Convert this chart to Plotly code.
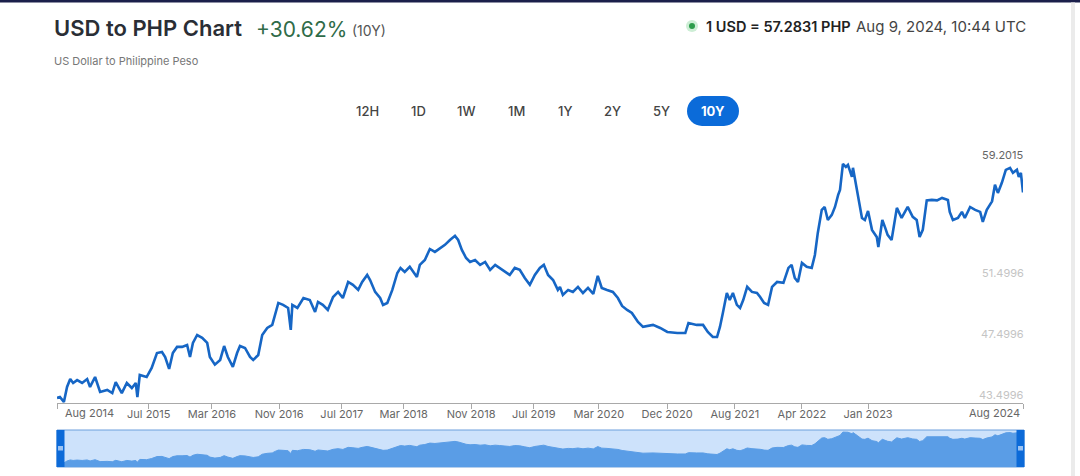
import plotly.graph_objects as go

# ---------------- data ----------------
dates = [
    # 2014 - 2018
    "2014-08-09", "2014-08-20", "2014-09-04", "2014-09-16", "2014-09-28", "2014-10-09",
    "2014-10-24", "2014-11-12", "2014-12-01", "2014-12-12", "2014-12-31", "2015-01-19",
    "2015-02-15", "2015-03-06", "2015-03-19", "2015-04-11", "2015-04-30", "2015-05-19",
    "2015-06-03", "2015-06-09", "2015-06-18", "2015-07-14", "2015-08-02", "2015-08-22",
    "2015-09-10", "2015-09-22", "2015-10-07", "2015-10-21", "2015-11-06", "2015-11-25",
    "2015-12-14", "2015-12-25", "2016-01-05", "2016-01-21", "2016-02-09", "2016-02-28",
    "2016-03-09", "2016-03-28", "2016-04-17", "2016-05-02", "2016-05-16", "2016-06-04",
    "2016-06-20", "2016-07-01", "2016-07-20", "2016-08-08", "2016-08-20", "2016-09-08",
    "2016-09-23", "2016-10-12", "2016-10-31", "2016-11-11", "2016-11-23", "2016-12-11",
    "2016-12-30", "2017-01-09", "2017-01-15", "2017-02-03", "2017-02-26", "2017-03-22",
    "2017-04-11", "2017-04-22", "2017-05-10", "2017-05-29", "2017-06-18", "2017-07-07",
    "2017-07-25", "2017-08-14", "2017-09-01", "2017-09-21", "2017-10-06", "2017-10-25",
    "2017-11-05", "2017-11-24", "2017-12-13", "2017-12-24", "2018-01-09", "2018-01-28",
    "2018-02-16", "2018-02-28", "2018-03-16", "2018-04-04", "2018-05-01", "2018-05-12",
    "2018-05-31", "2018-06-19", "2018-07-08", "2018-07-19",
    # 2018 - 2019
    "2018-08-15", "2018-09-03", "2018-09-22", "2018-10-04", "2018-10-18", "2018-11-03",
    "2018-11-18", "2018-12-07", "2018-12-26", "2019-01-14", "2019-02-02", "2019-02-21",
    "2019-03-10", "2019-03-29", "2019-04-17", "2019-05-06", "2019-05-25", "2019-06-13",
    "2019-07-02", "2019-07-21", "2019-08-09", "2019-08-24", "2019-09-09", "2019-09-28",
    "2019-10-16",
    # 2019 - 2024
    "2019-10-24", "2019-11-04", "2019-11-24", "2019-12-12", "2019-12-31", "2020-01-19",
    "2020-02-07", "2020-02-27", "2020-03-15", "2020-03-30", "2020-04-19", "2020-05-11",
    "2020-05-30", "2020-06-15", "2020-07-04", "2020-07-22", "2020-08-14", "2020-09-02",
    "2020-10-10", "2020-11-06", "2020-12-03", "2021-01-10", "2021-02-09", "2021-02-21",
    "2021-03-24", "2021-04-17", "2021-05-05", "2021-05-24", "2021-06-09", "2021-06-20",
    "2021-07-01", "2021-07-16", "2021-07-27", "2021-08-08", "2021-08-23", "2021-09-04",
    "2021-09-16", "2021-10-01", "2021-10-19", "2021-11-07", "2021-11-19", "2021-12-04",
    "2021-12-19", "2022-01-03", "2022-01-22", "2022-02-15", "2022-03-06", "2022-03-18",
    "2022-03-30", "2022-04-11", "2022-04-26", "2022-05-14", "2022-06-02", "2022-06-14",
    "2022-06-25", "2022-07-10", "2022-07-21", "2022-08-02", "2022-08-17", "2022-08-29",
    "2022-09-10", "2022-09-17", "2022-09-28", "2022-10-09", "2022-10-17", "2022-11-01",
    "2022-11-05", "2022-11-21", "2022-12-02", "2022-12-09", "2022-12-20", "2023-01-01",
    "2023-01-16", "2023-02-03", "2023-02-09", "2023-02-24", "2023-03-07", "2023-03-16",
    "2023-03-31", "2023-04-20", "2023-05-08", "2023-05-31", "2023-06-19", "2023-07-04",
    "2023-07-15", "2023-07-27", "2023-08-11", "2023-08-30", "2023-09-19", "2023-10-08",
    "2023-10-30", "2023-11-06", "2023-11-18", "2023-12-07", "2023-12-22", "2024-01-02",
    "2024-01-22", "2024-02-10", "2024-02-29", "2024-03-10", "2024-03-25", "2024-04-14",
    "2024-04-25", "2024-05-06", "2024-05-21", "2024-06-05", "2024-06-21", "2024-07-02",
    "2024-07-17", "2024-07-24", "2024-08-01", "2024-08-09",
]
usd_php = [
    # 2014 - 2018
    43.83, 43.89, 43.57, 44.55, 45.07, 44.81,
    45.00, 44.81, 45.07, 44.55, 45.20, 44.22,
    44.35, 44.15, 44.87, 44.15, 44.81, 44.48,
    44.81, 43.89, 45.33, 45.20, 45.79, 46.77,
    46.84, 46.51, 45.73, 46.77, 47.17, 47.17,
    47.30, 46.51, 47.43, 47.95, 47.76, 47.43,
    46.51, 46.01, 46.32, 47.23, 46.51, 45.86,
    46.77, 47.23, 47.10, 46.51, 46.32, 46.64,
    47.95, 48.41, 48.61, 49.39, 50.05, 49.92,
    49.72, 48.28, 49.92, 49.72, 50.37, 50.24,
    49.46, 50.11, 49.92, 49.59, 50.44, 50.77,
    50.37, 51.42, 51.23, 50.90, 51.42, 51.88,
    51.55, 50.77, 50.37, 49.92, 50.05, 50.90,
    52.01, 52.34, 52.08, 52.41, 51.75, 52.54,
    52.86, 53.58, 53.39, 53.52,
    # 2018 - 2019
    53.85, 54.17, 54.44, 54.17, 53.52, 52.99,
    52.73, 52.86, 52.54, 52.73, 52.21, 52.54,
    52.34, 52.08, 51.88, 52.34, 52.21, 51.68,
    51.23, 51.88, 52.34, 52.54, 51.88, 51.55,
    50.90,
    # 2019 - 2024
    51.10, 50.57, 50.90, 50.77, 51.10, 50.70,
    51.03, 50.64, 51.82, 51.03, 50.90, 50.77,
    50.37, 49.85, 49.59, 49.39, 48.80, 48.48,
    48.61, 48.41, 48.15, 48.08, 48.08, 48.74,
    48.61, 48.61, 48.15, 47.82, 47.82, 48.48,
    49.39, 50.70, 50.24, 50.70, 49.92, 49.72,
    50.24, 51.10, 50.77, 50.70, 50.44, 50.05,
    49.92, 51.10, 51.42, 51.36, 52.34, 52.54,
    51.68, 51.42, 52.67, 52.41, 52.34, 53.19,
    54.63, 56.14, 56.33, 55.48, 55.81, 56.33,
    57.12, 57.45, 59.15, 58.95, 59.08, 58.30,
    58.89, 57.45, 56.33, 55.61, 55.48, 56.07,
    54.83, 54.37, 53.71, 55.48, 54.96, 54.50,
    54.17, 56.27, 55.61, 56.33, 55.68, 55.48,
    54.37, 54.83, 56.76, 56.79, 56.76, 56.92,
    56.79, 56.01, 55.48, 55.61, 56.01, 55.61,
    56.33, 56.14, 56.01, 55.35, 56.14, 56.70,
    57.78, 57.25, 57.91, 58.76, 58.89, 58.56,
    58.76, 58.30, 58.56, 57.2831,
]

tick_dates = ["2015-07-22", "2016-03-17", "2016-11-26", "2017-07-21", "2018-03-12",
              "2018-11-22", "2019-07-17", "2020-03-19", "2020-12-02", "2021-08-15",
              "2022-04-26", "2023-01-01"]
tick_labels = ["Jul 2015", "Mar 2016", "Nov 2016", "Jul 2017", "Mar 2018", "Nov 2018",
               "Jul 2019", "Mar 2020", "Dec 2020", "Aug 2021", "Apr 2022", "Jan 2023"]
edge_dates = ["2014-08-09", "2024-08-09"]
edge_labels = ["Aug 2014", "Aug 2024"]

y_ticks = [59.2015, 51.4996, 47.4996, 43.4996]
y_tick_text = ["59.2015", "51.4996", "47.4996", "43.4996"]

ranges = ["12H", "1D", "1W", "1M", "1Y", "2Y", "5Y", "10Y"]

# ---------------- layout helpers ----------------
W, H = 1080, 476
FONT = "Inter, 'Noto Sans', sans-serif"


def px(x):
    return x / W


def py(y):
    return 1 - y / H


LEFT, RIGHT = 57, 1023
MAIN_TOP, MAIN_BOT = 157, 403
NAV_TOP, NAV_BOT = 430, 467

fig = go.Figure()

fig.add_trace(go.Scatter(
    x=dates, y=usd_php, mode="lines",
    line=dict(color="#1666c5", width=2.6),
    xaxis="x", yaxis="y", hoverinfo="skip", showlegend=False,
))

fig.add_trace(go.Scatter(
    x=dates, y=usd_php, mode="lines", fill="tozeroy",
    line=dict(color="#5a9de6", width=1), fillcolor="#5a9de6",
    xaxis="x2", yaxis="y2", hoverinfo="skip", showlegend=False,
))

shapes = []
annotations = []

# navigator background
shapes.append(dict(type="rect", xref="paper", yref="paper", layer="below",
                   x0=px(LEFT), x1=px(RIGHT + 1), y0=py(NAV_BOT), y1=py(NAV_TOP),
                   fillcolor="#cde2fb", line=dict(color="#6d9fdc", width=1)))
# navigator handles
for hx0, hx1 in [(LEFT - 0.5, LEFT + 7.5), (RIGHT - 6.5, RIGHT + 1.5)]:
    shapes.append(dict(type="rect", xref="paper", yref="paper",
                       x0=px(hx0), x1=px(hx1), y0=py(NAV_BOT), y1=py(NAV_TOP),
                       fillcolor="#0c6ad8", line=dict(width=0)))
    shapes.append(dict(type="rect", xref="paper", yref="paper",
                       x0=px(hx0 + 1.5), x1=px(hx1 - 1.5), y0=py(450.5), y1=py(446),
                       fillcolor="#9cc3f2", line=dict(width=0)))

# top navy strip & right border
shapes.append(dict(type="rect", xref="paper", yref="paper", x0=0, x1=1,
                   y0=py(2.5), y1=1, fillcolor="#1b1f4b", line=dict(width=0)))
shapes.append(dict(type="rect", xref="paper", yref="paper", x0=px(1071), x1=px(1075),
                   y0=0, y1=py(2.5), fillcolor="#ebebeb", line=dict(width=0)))

# status dot
for r, c in [(6, "#cdeed5"), (3, "#2c9c4b")]:
    shapes.append(dict(type="circle", xref="paper", yref="paper",
                       x0=px(692 - r), x1=px(692 + r), y0=py(26 + r), y1=py(26 - r),
                       fillcolor=c, line=dict(width=0)))

# 10Y pill
PILL_L, PILL_R, PILL_T, PILL_B = 687, 739, 96, 126
rad = (PILL_B - PILL_T) / 2
shapes.append(dict(type="rect", xref="paper", yref="paper",
                   x0=px(PILL_L + rad), x1=px(PILL_R - rad), y0=py(PILL_B), y1=py(PILL_T),
                   fillcolor="#0b6bd9", line=dict(width=0)))
for cx in (PILL_L + rad, PILL_R - rad):
    shapes.append(dict(type="circle", xref="paper", yref="paper",
                       x0=px(cx - rad), x1=px(cx + rad), y0=py(PILL_B), y1=py(PILL_T),
                       fillcolor="#0b6bd9", line=dict(width=0)))

# header texts
annotations += [
    dict(text="USD to PHP Chart", x=px(52), y=py(28), xref="paper", yref="paper",
         xanchor="left", yanchor="middle", showarrow=False,
         font=dict(family=FONT, size=22, color="#2a2e35", weight=600)),
    dict(text="+30.62%", x=px(254), y=py(29), xref="paper", yref="paper",
         xanchor="left", yanchor="middle", showarrow=False,
         font=dict(family=FONT, size=21, color="#2f6b48")),
    dict(text="(10Y)", x=px(350), y=py(30), xref="paper", yref="paper",
         xanchor="left", yanchor="middle", showarrow=False,
         font=dict(family=FONT, size=14, color="#555555")),
    dict(text="US Dollar to Philippine Peso", x=px(52), y=py(61), xref="paper", yref="paper",
         xanchor="left", yanchor="middle", showarrow=False,
         font=dict(family=FONT, size=11, color="#777777")),
    dict(text="1 USD = 57.2831 PHP", x=px(853), y=py(26), xref="paper", yref="paper",
         xanchor="right", yanchor="middle", showarrow=False,
         font=dict(family=FONT, size=14.5, color="#222222", weight=600)),
    dict(text="Aug 9, 2024, 10:44 UTC", x=px(1028), y=py(26), xref="paper", yref="paper",
         xanchor="right", yanchor="middle", showarrow=False,
         font=dict(family=FONT, size=15, color="#444444")),
]

btn_x = [367, 418, 466, 516, 565, 613, 661, 713]
for lbl, bx in zip(ranges, btn_x):
    active = lbl == "10Y"
    annotations.append(dict(
        text=lbl, x=px(bx), y=py(111), xref="paper", yref="paper",
        xanchor="center", yanchor="middle", showarrow=False,
        font=dict(family=FONT, size=13, color="#ffffff" if active else "#444444",
                  weight=700 if active else 500)))

# y labels (right side, above gridline position)
for v, t in zip(y_ticks, y_tick_text):
    annotations.append(dict(
        text=t, x=px(1026), y=v, xref="paper", yref="y",
        xanchor="right", yanchor="bottom", showarrow=False, yshift=-1,
        font=dict(family=FONT, size=11, color="#666666" if v == max(y_ticks) else "#c4c4c4")))

# edge x labels
for d, t, anchor, shift in zip(edge_dates, edge_labels, ["left", "right"], [6, -1]):
    annotations.append(dict(
        text=t, x=d, y=0, xref="x", yref="paper",
        xanchor=anchor, yanchor="middle", yshift=(H - 412.5), showarrow=False,
        xshift=shift,
        font=dict(family=FONT, size=11, color="#666666")))

fig.update_layout(
    width=W, height=H,
    margin=dict(l=0, r=0, t=0, b=0),
    paper_bgcolor="white", plot_bgcolor="rgba(0,0,0,0)",
    font=dict(family=FONT),
    showlegend=False,
    xaxis=dict(
        domain=[px(LEFT), px(RIGHT)], range=["2014-08-09", "2024-08-09"], type="date",
        tickmode="array", tickvals=edge_dates[:1] + tick_dates + edge_dates[1:],
        ticktext=[""] + tick_labels + [""],
        showline=True, linecolor="#a9a9a9", linewidth=1,
        ticks="outside", ticklen=5, tickcolor="#a9a9a9", ticklabelstandoff=-4,
        tickfont=dict(family=FONT, size=11, color="#666666"),
        showgrid=False, zeroline=False, fixedrange=True,
    ),
    yaxis=dict(
        domain=[py(MAIN_BOT), py(MAIN_TOP)], range=[43.4996, 59.6],
        showgrid=False, zeroline=False, showticklabels=False, showline=False,
        fixedrange=True,
    ),
    xaxis2=dict(
        domain=[px(LEFT), px(RIGHT)], range=["2014-08-09", "2024-08-09"], type="date",
        anchor="y2", visible=False, fixedrange=True,
    ),
    yaxis2=dict(
        domain=[py(NAV_BOT), py(NAV_TOP)], range=[41.5, 60.2], anchor="x2",
        visible=False, fixedrange=True,
    ),
    shapes=shapes,
    annotations=annotations,
)

fig.write_html("out.html")
